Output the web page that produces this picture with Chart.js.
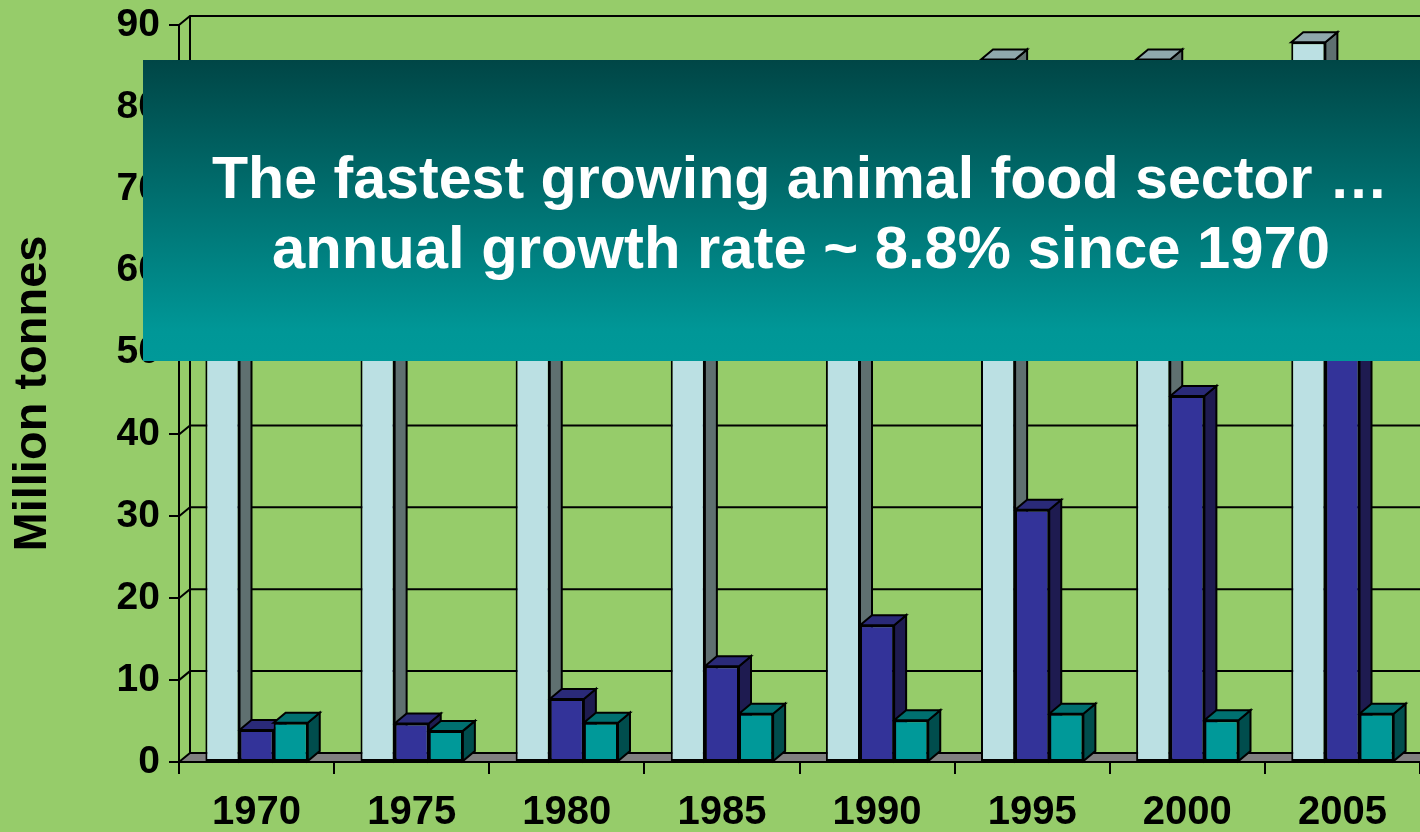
<!DOCTYPE html>
<html>
<head>
<meta charset="utf-8">
<script src="https://cdn.jsdelivr.net/npm/chart.js@4.4.1/dist/chart.umd.min.js"></script>
<style>
  html, body { margin: 0; padding: 0; background: #96cc6a; }
  canvas { display: block; }
</style>
</head>
<body>
<canvas id="fishChart" width="1420" height="832"></canvas>
<script>
const years = ['1970', '1975', '1980', '1985', '1990', '1995', '2000', '2005'];
const captureValues = [62, 64, 68, 78, 84, 85.8, 85.8, 87.9];
const aquacultureValues = [3.9, 4.7, 7.7, 11.7, 16.7, 30.8, 44.7, 59];
const otherValues = [4.8, 3.8, 4.8, 5.9, 5.1, 5.9, 5.1, 5.9];
const bannerLines = ['The fastest growing animal food sector \u2026', 'annual growth rate ~ 8.8% since 1970'];

// face colours for each series: front, right side, top
const frontColors = ['#bbe0e3', '#333399', '#009999'];
const sideColors = ['#5f7070', '#1e1b50', '#004d4d'];
const topColors = ['#8fa8ac', '#2a2a78', '#007070'];

const FONT = '"Liberation Sans", Arial, sans-serif';
const wall = {dx: 11, dy: 9};
const depth = {dx: 12, dy: 10};
const LINE = 2;

const depthPlugin = {
    id: 'depth',
    beforeDatasetsDraw(chart) {
        const ctx = chart.ctx;
        const area = chart.chartArea;
        const yScale = chart.scales.y;
        const left = area.left, right = area.right, bottom = area.bottom;

        ctx.save();
        ctx.strokeStyle = '#000';
        ctx.lineWidth = LINE;

        // floor
        ctx.fillStyle = '#808080';
        ctx.beginPath();
        ctx.moveTo(left, bottom);
        ctx.lineTo(left + wall.dx, bottom - wall.dy);
        ctx.lineTo(right + wall.dx, bottom - wall.dy);
        ctx.lineTo(right, bottom);
        ctx.closePath();
        ctx.fill();

        // back wall gridlines and left wall diagonals
        ctx.beginPath();
        yScale.ticks.forEach(t => {
            const y = yScale.getPixelForValue(t.value);
            ctx.moveTo(left, y);
            ctx.lineTo(left + wall.dx, y - wall.dy);
            ctx.lineTo(right + wall.dx, y - wall.dy);
        });
        ctx.moveTo(left + wall.dx, area.top - wall.dy);
        ctx.lineTo(left + wall.dx, bottom - wall.dy);
        ctx.moveTo(left, bottom);
        ctx.lineTo(right, bottom);
        ctx.stroke();

        // side and top faces of each column, front faces come from the library
        chart.data.datasets.forEach((ds, i) => {
            chart.getDatasetMeta(i).data.forEach(el => {
                const p = el.getProps(['x', 'y', 'base', 'width'], true);
                const l = p.x - p.width / 2, r = p.x + p.width / 2;

                ctx.fillStyle = sideColors[i];
                ctx.beginPath();
                ctx.moveTo(r, p.y);
                ctx.lineTo(r + depth.dx, p.y - depth.dy);
                ctx.lineTo(r + depth.dx, p.base - depth.dy);
                ctx.lineTo(r, p.base);
                ctx.closePath();
                ctx.fill();
                ctx.stroke();

                ctx.fillStyle = topColors[i];
                ctx.beginPath();
                ctx.moveTo(l, p.y);
                ctx.lineTo(l + depth.dx, p.y - depth.dy);
                ctx.lineTo(r + depth.dx, p.y - depth.dy);
                ctx.lineTo(r, p.y);
                ctx.closePath();
                ctx.fill();
                ctx.stroke();
            });
        });
        ctx.restore();
    },
    afterDraw(chart) {
        const ctx = chart.ctx;
        const x0 = 143, y0 = 60, x1 = 1420, y1 = 361;

        ctx.save();
        const grad = ctx.createLinearGradient(0, y0, 0, y1);
        grad.addColorStop(0, '#004646');
        grad.addColorStop(0.9, '#009797');
        grad.addColorStop(1, '#009999');
        ctx.fillStyle = grad;
        ctx.fillRect(x0, y0, x1 - x0, y1 - y0);

        // headline text, fitted to its line width
        ctx.fillStyle = '#fff';
        ctx.textAlign = 'center';
        ctx.textBaseline = 'alphabetic';
        ctx.font = 'bold 60px ' + FONT;
        const lines = [
            {text: bannerLines[0], cx: 800, base: 198, width: 1176},
            {text: bannerLines[1], cx: 801, base: 268, width: 1058}
        ];
        lines.forEach(ln => {
            const w = ctx.measureText(ln.text).width;
            ctx.save();
            ctx.translate(ln.cx, ln.base);
            ctx.scale(ln.width / w, 1);
            ctx.fillText(ln.text, 0, 0);
            ctx.restore();
        });
        ctx.restore();
    }
};

new Chart(document.getElementById('fishChart'), {
    type: 'bar',
    data: {
        labels: years,
        datasets: [
            {label: 'Capture', data: captureValues},
            {label: 'Aquaculture', data: aquacultureValues},
            {label: 'Other', data: otherValues}
        ].map((ds, i) => Object.assign(ds, {
            backgroundColor: frontColors[i],
            borderColor: '#000',
            borderWidth: LINE,
            borderSkipped: false,
            barPercentage: 1.0,
            categoryPercentage: 0.66
        }))
    },
    options: {
        responsive: false,
        animation: false,
        devicePixelRatio: 1,
        layout: {padding: {top: 25, right: 0, bottom: 0, left: 0}},
        plugins: {
            legend: {display: false},
            tooltip: {enabled: false}
        },
        scales: {
            x: {
                grid: {drawOnChartArea: false, tickLength: 12, color: '#000', lineWidth: LINE, offset: true},
                border: {color: '#000', width: LINE},
                ticks: {color: '#000', font: {family: FONT, size: 40, weight: 'bold'}, padding: 15, maxRotation: 0, autoSkip: false},
                afterFit: scale => {
                    scale.height = 70;
                    scale.paddingLeft = 0;
                    scale.paddingRight = 0;
                }
            },
            y: {
                min: 0,
                max: 90,
                grid: {drawOnChartArea: false, tickLength: 10, color: '#000', lineWidth: LINE},
                border: {color: '#000', width: LINE},
                ticks: {stepSize: 10, color: '#000', font: {family: FONT, size: 39, weight: 'bold'}, padding: 9},
                title: {
                    display: true,
                    text: 'Million tonnes',
                    color: '#000',
                    font: {family: FONT, size: 47, weight: 'bold'},
                    padding: {top: 5, bottom: 0}
                },
                afterFit: scale => {
                    scale.width = 179;
                    scale.paddingTop = 0;
                    scale.paddingBottom = 0;
                }
            }
        }
    },
    plugins: [depthPlugin]
});
</script>
</body>
</html>
